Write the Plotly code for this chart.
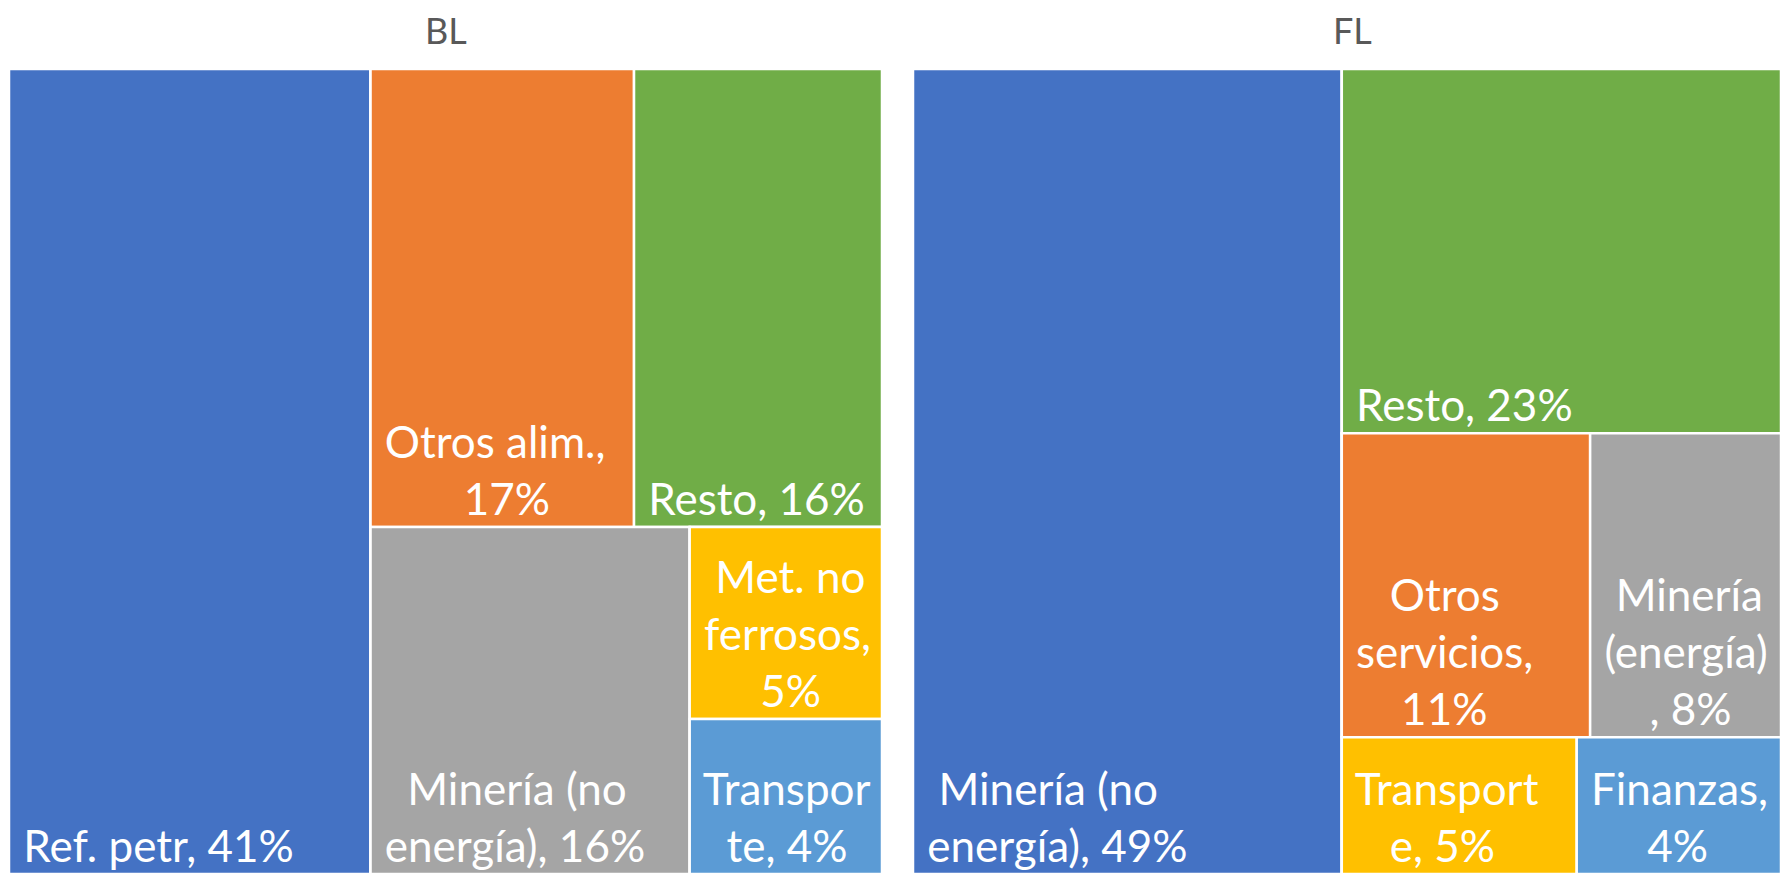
import plotly.graph_objects as go

# ---------------- data ----------------
bl_labels = ["Ref. petr", "Otros alim.", "Resto", "Minería (no energía)", "Met. no ferrosos", "Transporte"]
bl_values = [41.0, 17.0, 16.0, 15.6, 5.2, 4.2]
bl_colors = ["#4472C4", "#ED7D31", "#70AD47", "#A5A5A5", "#FFC000", "#5B9BD5"]

fl_labels = ["Minería (no energía)", "Resto", "Otros servicios", "Minería (energía)", "Transporte", "Finanzas"]
fl_values = [49.4, 22.9, 10.8, 8.3, 4.6, 4.0]
fl_colors = ["#4472C4", "#70AD47", "#ED7D31", "#A5A5A5", "#FFC000", "#5B9BD5"]

titles = ["BL", "FL"]

# data-label lines as wrapped in the original; the number is the line indent
# (in non-breaking spaces) that reproduces the centred Excel label block
bl_lines = [
    [(1, "Ref. petr, 41%")],
    [(1, "Otros alim.,"), (8, "17%")],
    [(1, "Resto, 16%")],
    [(3, "Minería (no"), (1, "energía), 16%")],
    [(2, "Met. no"), (1, "ferrosos,"), (6, "5%")],
    [(1, "Transpor"), (3, "te, 4%")],
]
fl_lines = [
    [(2, "Minería (no"), (1, "energía), 49%")],
    [(1, "Resto, 23%")],
    [(4, "Otros"), (1, "servicios,"), (5, "11%")],
    [(2, "Minería"), (1, "(energía)"), (5, ", 8%")],
    [(1, "Transport"), (4, "e, 5%")],
    [(1, "Finanzas,"), (6, "4%")],
]

NB = "\u00a0"


def fmt(lines):
    return "<br>".join(NB * n + s for n, s in lines)


bl_text = [fmt(l) for l in bl_lines]
fl_text = [fmt(l) for l in fl_lines]


# ------------- hierarchy (layout groups, Excel-like tiling) -------------
def build_bl():
    ids, labels, parents, values, text, colors = [], [], [], [], [], []

    def add(i, lab, par, val, txt, col):
        ids.append(i); labels.append(lab); parents.append(par)
        values.append(val); text.append(txt); colors.append(col)
    add("bl_root", "BL", "", 0, "", "white")
    add("bl_0", bl_labels[0], "bl_root", bl_values[0], bl_text[0], bl_colors[0])
    add("bl_g", "", "bl_root", 0, "", "white")
    add("bl_top", "", "bl_g", 0, "", "white")
    add("bl_1", bl_labels[1], "bl_top", bl_values[1], bl_text[1], bl_colors[1])
    add("bl_2", bl_labels[2], "bl_top", bl_values[2], bl_text[2], bl_colors[2])
    add("bl_bot", "", "bl_g", 0, "", "white")
    add("bl_3", bl_labels[3], "bl_bot", bl_values[3], bl_text[3], bl_colors[3])
    add("bl_col", "", "bl_bot", 0, "", "white")
    add("bl_4", bl_labels[4], "bl_col", bl_values[4], bl_text[4], bl_colors[4])
    add("bl_5", bl_labels[5], "bl_col", bl_values[5], bl_text[5], bl_colors[5])
    return ids, labels, parents, values, text, colors


def build_fl():
    ids, labels, parents, values, text, colors = [], [], [], [], [], []

    def add(i, lab, par, val, txt, col):
        ids.append(i); labels.append(lab); parents.append(par)
        values.append(val); text.append(txt); colors.append(col)
    add("fl_root", "FL", "", 0, "", "white")
    add("fl_0", fl_labels[0], "fl_root", fl_values[0], fl_text[0], fl_colors[0])
    add("fl_g", "", "fl_root", 0, "", "white")
    add("fl_1", fl_labels[1], "fl_g", fl_values[1], fl_text[1], fl_colors[1])
    add("fl_ra", "", "fl_g", 0, "", "white")
    add("fl_2", fl_labels[2], "fl_ra", fl_values[2], fl_text[2], fl_colors[2])
    add("fl_3", fl_labels[3], "fl_ra", fl_values[3], fl_text[3], fl_colors[3])
    add("fl_rb", "", "fl_g", 0, "", "white")
    add("fl_4", fl_labels[4], "fl_rb", fl_values[4], fl_text[4], fl_colors[4])
    add("fl_5", fl_labels[5], "fl_rb", fl_values[5], fl_text[5], fl_colors[5])
    return ids, labels, parents, values, text, colors


W, H = 1781, 874
domains = [
    dict(x=[9 / W, 882 / W], y=[0, 1 - 69 / H]),
    dict(x=[913 / W, 1.0], y=[0, 1 - 69 / H]),
]

fig = go.Figure()
for k, builder in enumerate([build_bl, build_fl]):
    ids, labels, parents, values, text, colors = builder()
    fig.add_trace(go.Treemap(
        ids=ids, labels=labels, parents=parents, values=values, text=text,
        branchvalues="remainder", sort=False,
        texttemplate="%{text}", textposition="bottom left",
        textfont=dict(family="Lato", size=44, color="white"),
        marker=dict(colors=colors, line=dict(color="white", width=2.5),
                    pad=dict(t=0, l=0, r=0, b=0)),
        tiling=dict(packing="slice-dice", pad=0),
        pathbar=dict(visible=False),
        domain=domains[k],
        hoverinfo="label+value",
        root=dict(color="white"),
    ))

title_x = [446 / W, 1352 / W]
for t, x in zip(titles, title_x):
    fig.add_annotation(text=t, x=x, y=1 - 30 / H, xref="paper", yref="paper",
                       showarrow=False, xanchor="center", yanchor="middle",
                       font=dict(family="Lato", size=36, color="#595959"))

fig.update_layout(width=W, height=H, margin=dict(l=0, r=0, t=0, b=0),
                  paper_bgcolor="white", plot_bgcolor="white", showlegend=False)

fig.write_html("out.html", config={"displayModeBar": False},
               post_script="document.body.style.margin='0';")
